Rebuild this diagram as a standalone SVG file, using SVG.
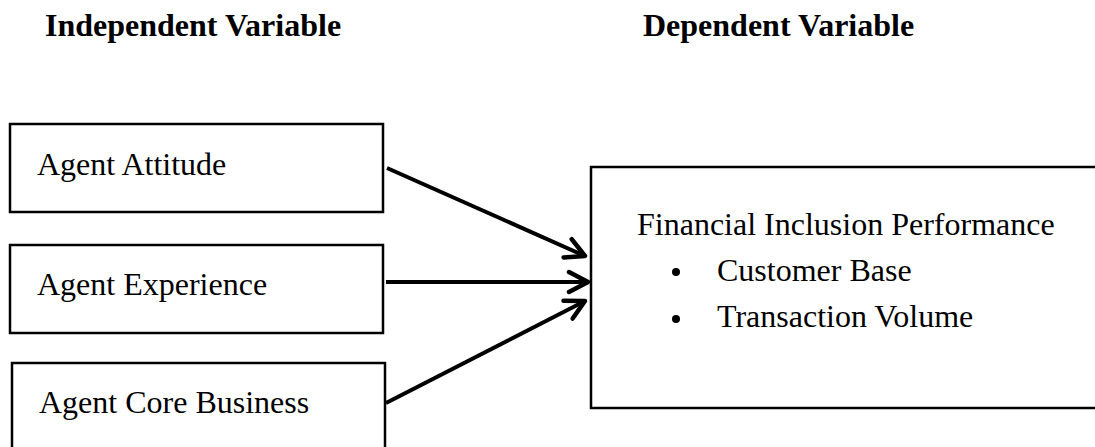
<svg xmlns="http://www.w3.org/2000/svg" width="1095" height="447" viewBox="0 0 1095 447">
<style>
.box{fill:#fff;stroke:#000;stroke-width:2.5}
.lbl{font-family:"Liberation Serif","Times New Roman",serif;font-size:32px;fill:#000}
.hdr{font-family:"Liberation Serif","Times New Roman",serif;font-size:32px;font-weight:bold;fill:#000}
.edge{stroke:#000;stroke-width:4;fill:none}
</style>
<defs>
<marker id="arr" viewBox="0 0 26 26" refX="23" refY="13" markerWidth="26" markerHeight="26" markerUnits="userSpaceOnUse" orient="auto">
<path d="M4,3 L23,13 L4,23" fill="none" stroke="#000" stroke-width="4.5" stroke-linecap="round" stroke-linejoin="round"/>
</marker>
</defs>
<rect width="1095" height="447" fill="#fff"/>
<text class="hdr" x="45" y="36">Independent Variable</text>
<text class="hdr" x="643" y="36">Dependent Variable</text>
<g id="n1"><rect class="box" x="10" y="124" width="373" height="88"/><text class="lbl" x="37" y="175">Agent Attitude</text></g>
<g id="n2"><rect class="box" x="10" y="245" width="373" height="88"/><text class="lbl" x="37" y="295">Agent Experience</text></g>
<g id="n3"><rect class="box" x="12" y="363" width="373" height="100"/><text class="lbl" x="39" y="413">Agent Core Business</text></g>
<g id="n4"><rect class="box" x="591" y="167" width="520" height="241"/>
<text class="lbl" x="637" y="235">Financial Inclusion Performance</text>
<circle cx="676" cy="272" r="4"/><text class="lbl" x="717" y="281">Customer Base</text>
<circle cx="676" cy="319" r="4"/><text class="lbl" x="717" y="327">Transaction Volume</text>
</g>
<g id="edges">
<line class="edge" x1="387" y1="168" x2="585" y2="256" marker-end="url(#arr)"/>
<line class="edge" x1="386" y1="282" x2="588" y2="282" marker-end="url(#arr)"/>
<line class="edge" x1="386" y1="403" x2="585" y2="301" marker-end="url(#arr)"/>
</g>
</svg>
